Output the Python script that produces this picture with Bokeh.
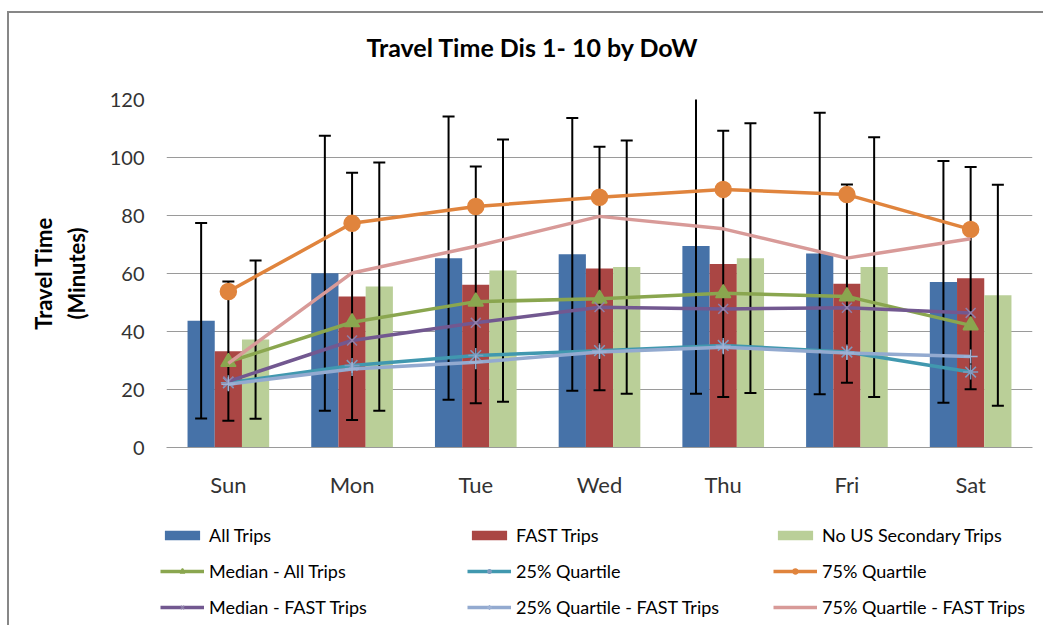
from bokeh.plotting import figure
from bokeh.layouts import column
from bokeh.models import (FactorRange, ColumnDataSource, Legend, LegendItem,
                          FixedTicker)
from bokeh.transform import dodge
from bokeh.embed import file_html
from bokeh.resources import INLINE

# ---------------- data ----------------
days = ["Sun", "Mon", "Tue", "Wed", "Thu", "Fri", "Sat"]

all_trips = [43.7, 60.1, 65.3, 66.6, 69.5, 66.9, 57.1]
fast_trips = [33.2, 52.1, 56.1, 61.7, 63.3, 56.5, 58.4]
no_us_secondary = [37.2, 55.5, 61.0, 62.2, 65.3, 62.2, 52.5]

all_sd = [33.7, 47.4, 48.8, 47.0, 51.0, 48.5, 41.7]
fast_sd = [24.0, 42.6, 40.8, 42.0, 45.9, 34.2, 38.3]
no_us_sd = [27.3, 42.8, 45.2, 43.7, 46.5, 44.8, 38.1]

median_all = [29.5, 43.2, 50.3, 51.3, 53.2, 52.1, 42.1]
q25 = [22.3, 28.3, 31.7, 33.4, 35.2, 32.9, 26.0]
q75 = [53.8, 77.3, 83.1, 86.3, 89.0, 87.2, 75.2]
median_fast = [22.8, 36.9, 43.0, 48.4, 47.8, 48.2, 46.4]
q25_fast = [21.8, 27.1, 29.4, 32.9, 34.6, 32.6, 31.4]
q75_fast = [29.0, 60.2, 69.4, 79.7, 75.4, 65.3, 72.0]

y_ticks = [0, 20, 40, 60, 80, 100, 120]

# ---------------- source ----------------
src = ColumnDataSource(dict(
    day=days,
    all=all_trips, fast=fast_trips, nous=no_us_secondary,
    all_lo=[m - s for m, s in zip(all_trips, all_sd)],
    all_hi=[m + s for m, s in zip(all_trips, all_sd)],
    fast_lo=[m - s for m, s in zip(fast_trips, fast_sd)],
    fast_hi=[m + s for m, s in zip(fast_trips, fast_sd)],
    nous_lo=[m - s for m, s in zip(no_us_secondary, no_us_sd)],
    nous_hi=[m + s for m, s in zip(no_us_secondary, no_us_sd)],
    median_all=median_all, q25=q25, q75=q75,
    median_fast=median_fast, q25_fast=q25_fast, q75_fast=q75_fast,
))

FONT = "Lato"

# ---------------- title strip ----------------
tp = figure(width=1034, height=70, x_range=(0, 1), y_range=(0, 1),
            output_backend="svg", toolbar_location=None,
            x_axis_location=None, y_axis_location=None, min_border=0,
            title="Travel Time Dis 1- 10 by DoW")
tp.frame_align = False
tp.outline_line_color = None
tp.xgrid.grid_line_color = None
tp.ygrid.grid_line_color = None
tp.title.align = "left"
tp.title.offset = 357
tp.title.vertical_align = "top"
tp.title.standoff = 40
tp.title.text_font = FONT
tp.title.text_font_size = "25px"
tp.title.text_font_style = "bold"
tp.title.text_color = "#000000"

# ---------------- main chart ----------------
p = figure(
    x_range=FactorRange(factors=days, range_padding=0),
    y_range=(0, 120),
    width=1034, height=417,
    output_backend="svg", toolbar_location=None,
    min_border_left=157, min_border_right=11,
    min_border_top=16, min_border_bottom=53,
)
p.frame_align = False
p.outline_line_color = None
p.background_fill_color = "white"
p.border_fill_color = "white"

# axes
p.yaxis.ticker = FixedTicker(ticks=y_ticks)
p.yaxis.axis_line_color = None
p.yaxis.major_tick_line_color = None
p.yaxis.minor_tick_line_color = None
p.yaxis.major_label_standoff = 16
p.yaxis.major_label_text_font = FONT
p.yaxis.major_label_text_font_size = "20px"
p.yaxis.major_label_text_color = "#333333"
p.yaxis.axis_label = "Travel Time\n(Minutes)"
p.yaxis.axis_label_text_font = FONT
p.yaxis.axis_label_text_font_size = "22px"
p.yaxis.axis_label_text_font_style = "bold"
p.yaxis.axis_label_text_color = "#000000"
p.yaxis.axis_label_standoff = 17

p.xaxis.axis_line_color = "#9A9A9A"
p.xaxis.major_tick_line_color = None
p.xaxis.minor_tick_line_color = None
p.xaxis.major_label_standoff = 17
p.xaxis.major_label_text_font = FONT
p.xaxis.major_label_text_font_size = "22px"
p.xaxis.major_label_text_color = "#333333"

p.xgrid.grid_line_color = None
p.ygrid.grid_line_color = "#9A9A9A"
p.ygrid.grid_line_width = 1

# ---------------- bars ----------------
OFF = 0.22
bar_specs = [
    ("all", -OFF, "#4672A8", "All Trips"),
    ("fast", 0.0, "#AA4644", "FAST Trips"),
    ("nous", OFF, "#BACF98", "No US Secondary Trips"),
]
for col, off, color, label in bar_specs:
    xd = dodge("day", off, range=p.x_range)
    p.vbar(x=xd, top=col, width=OFF, source=src, fill_color=color, line_color=None)
for col, off, color, label in bar_specs:
    xd = dodge("day", off, range=p.x_range)
    p.segment(x0=xd, y0=col + "_lo", x1=xd, y1=col + "_hi", source=src,
              line_color="black", line_width=2)
    p.scatter(x=xd, y=col + "_hi", marker="dash", size=12, source=src,
              line_color="black", line_width=2)
    p.scatter(x=xd, y=col + "_lo", marker="dash", size=12, source=src,
              line_color="black", line_width=2)

# ---------------- lines ----------------
line_specs = [
    ("median_all", "#8AA64F", "triangle", 15, "#8AA64F", "#8AA64F", "Median - All Trips"),
    ("q25", "#4198AF", "asterisk", 15, None, "#7F9CC0", "25% Quartile"),
    ("q75", "#E0843D", "circle", 16, "#E0843D", "#E0843D", "75% Quartile"),
    ("median_fast", "#725890", "x", 14, None, "#8F80AA", "Median - FAST Trips"),
    ("q25_fast", "#93AAD0", "cross", 14, None, "#9FB3D5", "25% Quartile - FAST Trips"),
    ("q75_fast", "#D89A98", None, 0, None, None, "75% Quartile - FAST Trips"),
]
for col, color, marker, size, fill, mline, label in line_specs:
    p.line(x="day", y=col, source=src, line_color=color, line_width=3.5)
    if marker:
        p.scatter(x="day", y=col, source=src, marker=marker, size=size,
                  fill_color=fill, line_color=mline, line_width=1.5)

# ---------------- legend strip ----------------
lp = figure(width=1034, height=125, x_range=(0, 1), y_range=(0, 1),
            output_backend="svg", toolbar_location=None,
            x_axis_location=None, y_axis_location=None, min_border=0)
lp.frame_align = False
lp.outline_line_color = None
lp.xgrid.grid_line_color = None
lp.ygrid.grid_line_color = None

# legend swatches: glyphs placed outside the visible range, so only the legend shows them
lg_r = {}
for col, off, color, label in bar_specs:
    lg_r[label] = [lp.vbar(x=[5], top=[5], width=0.2, fill_color=color, line_color=None)]
for col, color, marker, size, fill, mline, label in line_specs:
    rs = [lp.line(x=[5, 6], y=[5, 5], line_color=color, line_width=3.5)]
    if marker:
        rs.append(lp.scatter(x=[5], y=[5], marker=marker, size=size * 0.7,
                             fill_color=fill, line_color=mline if mline else color,
                             line_width=1.5))
    lg_r[label] = rs

legend_cols = [
    ["All Trips", "Median - All Trips", "Median - FAST Trips"],
    ["FAST Trips", "25% Quartile", "25% Quartile - FAST Trips"],
    ["No US Secondary Trips", "75% Quartile", "75% Quartile - FAST Trips"],
]
col_x = [151, 458, 764]
for cx, labels in zip(col_x, legend_cols):
    items = [LegendItem(label=lab, renderers=lg_r[lab]) for lab in labels]
    leg = Legend(items=items, location=(cx, 7), orientation="vertical",
                 padding=0, margin=0, spacing=14,
                 glyph_width=44, glyph_height=12, label_height=20,
                 label_standoff=5,
                 label_text_font=FONT, label_text_font_size="18px",
                 label_text_color="#000000",
                 border_line_color=None, background_fill_alpha=0)
    lp.add_layout(leg)

layout = column(tp, p, lp, spacing=0)
layout.styles = {"border-top": "2px solid #878787", "border-left": "2px solid #878787",
                 "margin-top": "11px", "margin-left": "7px"}

open("out.html", "w").write(file_html(layout, INLINE))
